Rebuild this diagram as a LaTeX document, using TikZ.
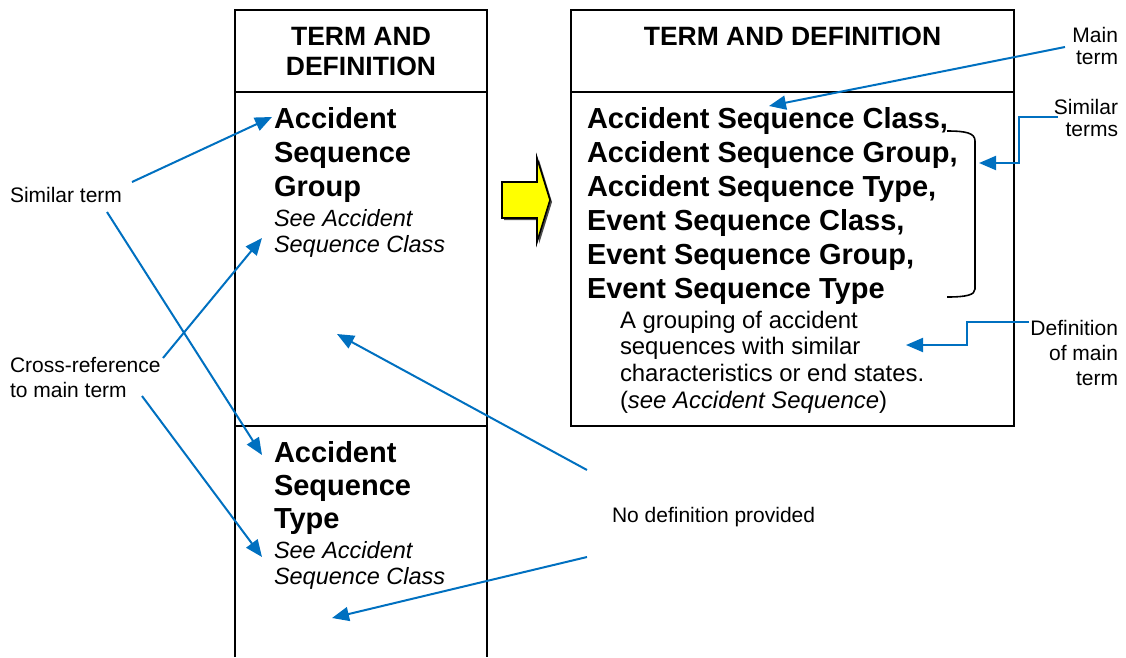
\documentclass[tikz,border=0pt]{standalone}
\usepackage{fontspec}
\setmainfont{Liberation Sans}
\usetikzlibrary{arrows.meta}

\definecolor{callout}{RGB}{0,112,192}
\definecolor{hiyellow}{RGB}{255,255,0}

% font settings for the different kinds of text
\newcommand\hdrfont{\fontsize{26.5}{30.5}\selectfont\bfseries}
\newcommand\termfont{\fontsize{29}{34}\selectfont\bfseries}
\newcommand\termfontB{\fontsize{29}{33.2}\selectfont\bfseries}
\newcommand\seefont{\fontsize{23.5}{26.5}\selectfont\itshape}
\newcommand\deffont{\fontsize{23.9}{26.8}\selectfont}
\newcommand\lblfont{\fontsize{21}{25}\selectfont}
\newcommand\lblfontS{\fontsize{21}{22.6}\selectfont}

\tikzset{
  frame/.style={draw=black, line width=2.1pt},
  pointer/.style={draw=callout, line width=2pt, -{Triangle[length=17pt,width=14pt]}},
  txt/.style={inner sep=0pt, outer sep=0pt, anchor=base west},
  txtr/.style={inner sep=0pt, outer sep=0pt, anchor=base east},
  txtc/.style={inner sep=0pt, outer sep=0pt, anchor=base},
  bracket/.style={draw=black, line width=1.6pt},
  bigarrow/.style={fill=hiyellow, draw=black, line width=1.6pt, line join=miter}
}

\begin{document}
\begin{tikzpicture}[x=1pt, y=-1pt]
  \useasboundingbox (0,0) rectangle (1126,657);

  % ---- left column: two glossary entries without definitions ----
  \draw[frame] (235,657) -- (235,10) -- (487,10) -- (487,657);
  \draw[frame] (235,92) -- (487,92);
  \draw[frame] (235,426) -- (487,426);

  \node[txtc] (hdrL) at (361,45) {\hdrfont\begin{tabular}[t]{@{}c@{}}TERM AND\\DEFINITION\end{tabular}};

  \node[txt] (termA) at (274,128) {\termfont\begin{tabular}[t]{@{}l@{}}Accident\\Sequence\\Group\end{tabular}};
  \node[txt] (seeA) at (274,226) {\seefont\begin{tabular}[t]{@{}l@{}}See Accident\\Sequence Class\end{tabular}};

  \node[txt] (termB) at (274,462) {\termfontB\begin{tabular}[t]{@{}l@{}}Accident\\Sequence\\Type\end{tabular}};
  \node[txt] (seeB) at (274,558) {\seefont\begin{tabular}[t]{@{}l@{}}See Accident\\Sequence Class\end{tabular}};

  % ---- yellow transition arrow (with a thin dark shadow) ----
  \fill[black!70] (504,184) -- (539,184) -- (539,160) -- (552,202)
                  -- (539,244) -- (539,220) -- (504,220) -- cycle;
  \draw[bigarrow] (502,182) -- (537,182) -- (537,158) -- (550,200)
                  -- (537,242) -- (537,218) -- (502,218) -- cycle;

  % ---- right column: combined entry ----
  \draw[frame] (571,10) rectangle (1014,426);
  \draw[frame] (571,92) -- (1014,92);

  \node[txtc] (hdrR) at (792.5,45) {\hdrfont TERM AND DEFINITION};

  \node[txt] (termR) at (587,128) {\termfont\begin{tabular}[t]{@{}l@{}}
    Accident Sequence Class,\\Accident Sequence Group,\\Accident Sequence Type,\\
    Event Sequence Class,\\Event Sequence Group,\\Event Sequence Type\end{tabular}};

  \node[txt] (defR) at (620,328) {\deffont\begin{tabular}[t]{@{}l@{}}
    A grouping of accident\\sequences with similar\\characteristics or end states.\\
    (\textit{see Accident Sequence})\end{tabular}};

  % bracket grouping the similar terms
  \draw[bracket] (947,131) .. controls (966,131) and (975,133) .. (975,141)
                 -- (975,289) .. controls (975,295) and (966,297) .. (947,297);

  % ---- callout labels ----
  \node[txtr] (lblMain) at (1118,42) {\lblfontS\begin{tabular}[t]{@{}r@{}}Main\\term\end{tabular}};
  \node[txtr] (lblSim) at (1118,114) {\lblfontS\begin{tabular}[t]{@{}r@{}}Similar\\terms\end{tabular}};
  \node[txtr] (lblDef) at (1118,335) {\lblfont\begin{tabular}[t]{@{}r@{}}Definition\\of main\\term\end{tabular}};
  \node[txt] (lblSimL) at (10,202) {\lblfont Similar term};
  \node[txt] (lblXref) at (10,372) {\lblfont\begin{tabular}[t]{@{}l@{}}Cross-reference\\to main term\end{tabular}};
  \node[txt] (lblNoDef) at (612,522) {\lblfont No definition provided};

  % ---- connector end points ----
  \coordinate (mainFrom) at (1065,47);
  \coordinate (mainTo)   at (769,106);
  \coordinate (simFrom)  at (1058,117);
  \coordinate (simTo)    at (979,163);
  \coordinate (defFrom)  at (1029,322);
  \coordinate (defTo)    at (906,345);
  \coordinate (simLFromA) at (132,182);
  \coordinate (simLToA)   at (272,117);
  \coordinate (simLFromB) at (107,212);
  \coordinate (simLToB)   at (262,455);
  \coordinate (xrefFromA) at (163,358);
  \coordinate (xrefToA)   at (262,238);
  \coordinate (xrefFromB) at (142,396);
  \coordinate (xrefToB)   at (262,557);
  \coordinate (noDefFromA) at (587,470);
  \coordinate (noDefToA)   at (337,334);
  \coordinate (noDefFromB) at (587,557);
  \coordinate (noDefToB)   at (332,618);

  % ---- connectors ----
  \draw[pointer] (mainFrom) -- (mainTo);
  \draw[pointer] (simFrom) -- (1019,117) -- (1019,163) -- (simTo);
  \draw[pointer] (defFrom) -- (967,322) -- (967,345) -- (defTo);
  \draw[pointer] (simLFromA) -- (simLToA);
  \draw[pointer] (simLFromB) -- (simLToB);
  \draw[pointer] (xrefFromA) -- (xrefToA);
  \draw[pointer] (xrefFromB) -- (xrefToB);
  \draw[pointer] (noDefFromA) -- (noDefToA);
  \draw[pointer] (noDefFromB) -- (noDefToB);
\end{tikzpicture}
\end{document}
